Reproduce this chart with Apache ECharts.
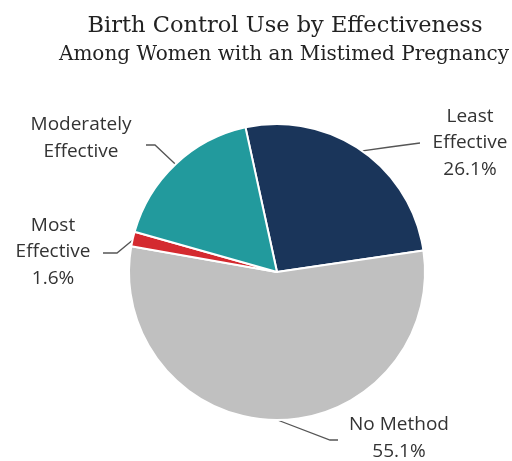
<!DOCTYPE html>
<html><head><meta charset="utf-8">
<script src="https://cdn.jsdelivr.net/npm/echarts@6/dist/echarts.min.js"></script>
<style>html,body{margin:0;padding:0;background:#fff}#c{width:512px;height:461px}</style>
</head><body><div id="c"></div>
<script>
const categories = ["Least Effective", "No Method", "Most Effective", "Moderately Effective"];
const values = [26.1, 55.1, 1.6, 17.2];
const showPct = [true, true, true, false];
const colors = ["#1a355a", "#c0c0c0", "#d42a2f", "#229a9d"];
// label layout (annotation placement only)
const CX = 277, CY = 272, R = 148, START = 102.3;
const labelSpots = [
  {x: 470, y: 143, bend: [390, 147], end: [420, 143]},
  {x: 399, y: 438, bend: [330, 440], end: [338, 440]},
  {x: 53, y: 252, bend: [117, 253], end: [103, 253]},
  {x: 81, y: 138, bend: [155, 145], end: [146, 145]}
];
const total = values.reduce((a, b) => a + b, 0);
function edgePoint(i) {
  let before = 0;
  for (let k = 0; k < i; k++) before += values[k];
  const ang = (START - (before + values[i] / 2) / total * 360) * Math.PI / 180;
  return [CX + (R - 1) * Math.cos(ang), CY - (R - 1) * Math.sin(ang)];
}
const chart = echarts.init(document.getElementById('c'));
chart.setOption({
  animation: false,
  title: [
    {text: 'Birth Control Use by Effectiveness', left: 280, top: 10, textAlign: 'center',
     textStyle: {fontFamily: 'DejaVu Serif', fontWeight: 'normal', fontSize: 22.5, color: '#222'}},
    {text: 'Among Women with an Mistimed Pregnancy', left: 279, top: 40, textAlign: 'center',
     textStyle: {fontFamily: 'DejaVu Serif', fontWeight: 'normal', fontSize: 20, color: '#222'}}
  ],
  series: [{
    type: 'pie',
    center: [CX, CY],
    radius: [0, R],
    startAngle: START,
    clockwise: true,
    data: categories.map((c, i) => ({name: c, value: values[i], itemStyle: {color: colors[i]}})),
    itemStyle: {borderColor: '#fff', borderWidth: 2},
    label: {
      fontFamily: 'Open Sans', fontSize: 19, color: '#333', lineHeight: 26.5, align: 'center',
      overflow: 'none', edgeDistance: 0, bleedMargin: 0,
      formatter: p => {
        const i = p.dataIndex;
        let s = p.name === 'No Method' ? p.name : p.name.split(' ').join('\n');
        if (showPct[i]) s += '\n' + values[i].toFixed(1) + '%';
        return s;
      }
    },
    labelLine: {lineStyle: {color: '#555', width: 1.3}, length: 20, length2: 20},
    labelLayout: p => {
      const s = labelSpots[p.dataIndex];
      return {x: s.x, y: s.y, align: 'center', verticalAlign: 'middle',
              labelLinePoints: [edgePoint(p.dataIndex), s.bend, s.end]};
    }
  }]
});
</script></body></html>
